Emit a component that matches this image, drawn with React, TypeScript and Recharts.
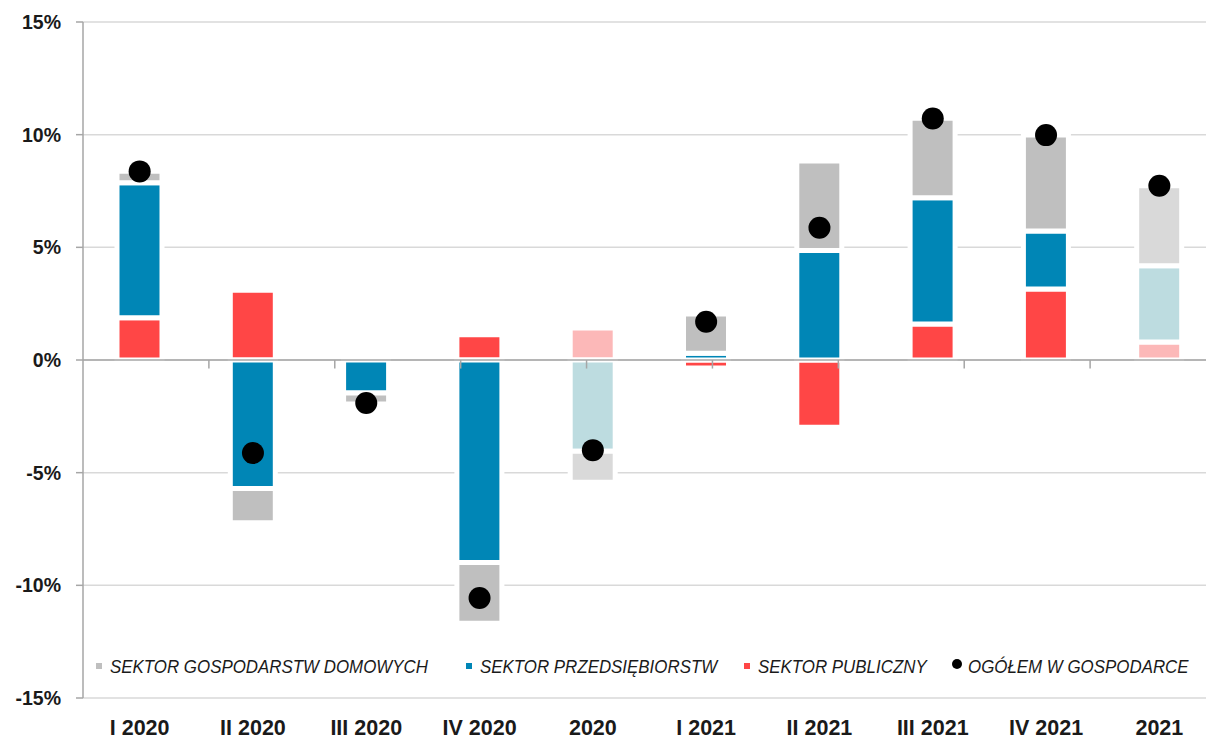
import React from 'react';
import {
  ComposedChart,
  Bar,
  Line,
  XAxis,
  YAxis,
  CartesianGrid,
  ReferenceLine,
  Cell,
} from 'recharts';

const categories = ['I 2020', 'II 2020', 'III 2020', 'IV 2020', '2020', 'I 2021', 'II 2021', 'III 2021', 'IV 2021', '2021'];
const publicSector = [1.87, 3.1, 0, 1.12, 1.42, -0.35, -2.99, 1.6, 3.15, 0.8];
const enterpriseSector = [6.0, -5.7, -1.47, -8.99, -4.05, 0.3, 4.86, 5.6, 2.57, 3.38];
const householdSector = [0.51, -1.52, -0.48, -2.69, -1.37, 1.74, 3.97, 3.53, 4.27, 3.55];
const totalEconomy = [8.37, -4.13, -1.91, -10.56, -4.0, 1.7, 5.87, 10.72, 9.98, 7.73];
const yTicks = [-15, -10, -5, 0, 5, 10, 15];

const legendLabels = [
  'SEKTOR GOSPODARSTW DOMOWYCH',
  'SEKTOR PRZEDSIĘBIORSTW',
  'SEKTOR PUBLICZNY',
  'OGÓŁEM W GOSPODARCE',
];

const COLORS = {
  pub: '#FF4646',
  pubLight: '#FCB8B8',
  ent: '#0086B6',
  entLight: '#BDDCE0',
  hh: '#BFBFBF',
  hhLight: '#D9D9D9',
  dot: '#000000',
};

const data = categories.map((c, i) => ({
  cat: c,
  annual: !c.includes(' '),
  pub: publicSector[i],
  ent: enterpriseSector[i],
  hh: householdSector[i],
  total: totalEconomy[i],
}));

const boundaries = categories.slice(1).map((_, i) => i + 1);

const FONT = "'Liberation Sans', Arial, sans-serif";

const XTick = (props: any) => {
  const { x, y, payload } = props;
  return (
    <text x={x} y={y + 37} textAnchor="middle" fontFamily={FONT} fontWeight="bold" fontSize={21.5} fill="#1a1a1a">
      {payload.value}
    </text>
  );
};

const legendItems = [
  { label: legendLabels[0], color: COLORS.hh, kind: 'square', x: 96 },
  { label: legendLabels[1], color: COLORS.ent, kind: 'square', x: 466 },
  { label: legendLabels[2], color: COLORS.pub, kind: 'square', x: 744 },
  { label: legendLabels[3], color: COLORS.dot, kind: 'dot', x: 952 },
];

export default function App() {
  return (
    <div style={{ position: 'absolute', left: 0, top: 0, width: 1206, height: 740, overflow: 'hidden', background: '#fff' }}>
      <ComposedChart
        width={1216}
        height={740}
        data={data}
        stackOffset="sign"
        margin={{ top: 22, right: 0, bottom: 0, left: 0 }}
      >
        <CartesianGrid vertical={false} stroke="#D9D9D9" strokeWidth={1.5} />
        <XAxis
          dataKey="cat"
          axisLine={false}
          tickLine={false}
          tickSize={0}
          tickMargin={0}
          height={42}
          tick={<XTick />}
          interval={0}
        />
        <XAxis xAxisId="b" type="number" domain={[0, 10]} hide />
        <YAxis
          domain={[-15, 15]}
          ticks={yTicks}
          width={83}
          tickSize={7}
          tickMargin={15}
          axisLine={{ stroke: '#A6A6A6', strokeWidth: 1.5 }}
          tickLine={{ stroke: '#A6A6A6', strokeWidth: 1.5 }}
          tickFormatter={(v: number) => `${v}%`}
          tick={{ fontFamily: FONT, fontWeight: 'bold', fontSize: 19.5, fill: '#1a1a1a' }}
          interval={0}
        />
        <Bar dataKey="pub" stackId="s" barSize={45} stroke="#fff" strokeWidth={5} isAnimationActive={false}>
          {data.map((d, i) => (
            <Cell key={i} fill={d.annual ? COLORS.pubLight : COLORS.pub} />
          ))}
        </Bar>
        <Bar dataKey="ent" stackId="s" barSize={45} stroke="#fff" strokeWidth={5} isAnimationActive={false}>
          {data.map((d, i) => (
            <Cell key={i} fill={d.annual ? COLORS.entLight : COLORS.ent} />
          ))}
        </Bar>
        <Bar dataKey="hh" stackId="s" barSize={45} stroke="#fff" strokeWidth={5} isAnimationActive={false}>
          {data.map((d, i) => (
            <Cell key={i} fill={d.annual ? COLORS.hhLight : COLORS.hh} />
          ))}
        </Bar>
        <ReferenceLine y={0} stroke="#A6A6A6" strokeWidth={1.5} />
        {boundaries.map((b) => (
          <ReferenceLine
            key={b}
            xAxisId="b"
            segment={[{ x: b, y: 0 }, { x: b, y: -0.38 }]}
            stroke="#A6A6A6"
            strokeWidth={1.5}
          />
        ))}
        <Line
          dataKey="total"
          stroke="none"
          isAnimationActive={false}
          activeDot={false}
          dot={{ r: 11, fill: COLORS.dot, stroke: 'none', strokeWidth: 0 }}
        />
      </ComposedChart>
      <svg
        width={1206}
        height={40}
        style={{ position: 'absolute', left: 0, top: 646, pointerEvents: 'none' }}
      >
        {legendItems.map((it) => {
          const tx = it.kind === 'square' ? it.x + 14 : it.x + 16;
          return (
            <g key={it.label}>
              {it.kind === 'square' ? (
                <rect x={it.x} y={17} width={6} height={6} fill={it.color} />
              ) : (
                <circle cx={it.x + 5} cy={18} r={5} fill={it.color} />
              )}
              <text
                x={tx}
                y={27}
                transform={`translate(${tx} 0) scale(0.89 1) translate(${-tx} 0)`}
                fontFamily={FONT}
                fontStyle="italic"
                fontSize={19}
                fill="#1a1a1a"
              >
                {it.label}
              </text>
            </g>
          );
        })}
      </svg>
    </div>
  );
}
